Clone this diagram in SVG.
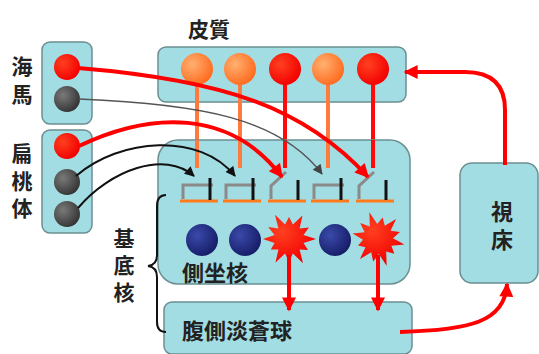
<svg xmlns="http://www.w3.org/2000/svg" xmlns:xlink="http://www.w3.org/1999/xlink" width="539" height="354" viewBox="0 0 539 354">
<defs>
<style>
.box{fill:#a2dde3;stroke:#6b8e92;stroke-width:1.5}
.lbl{font-family:"Noto Sans CJK JP","Noto Sans CJK SC",sans-serif;font-size:21px;font-weight:bold;fill:#222;text-anchor:middle;dominant-baseline:central}
.vert{writing-mode:vertical-rl;text-orientation:upright}
.stemO{stroke:#ff7a3c;stroke-width:4}
.stemR{stroke:#ff0a0a;stroke-width:4}
.base{stroke:#ff7a1a;stroke-width:3}
.pre{stroke:#8a8a8a;stroke-width:3;fill:none}
.post{stroke:#111;stroke-width:3}
.red{fill:none;stroke:#ff0000;stroke-width:4}
.blk{fill:none;stroke:#111;stroke-width:2}
.gry{fill:none;stroke:#555;stroke-width:1.5}
</style>
<radialGradient id="gO" cx="0.35" cy="0.35" r="0.7"><stop offset="0" stop-color="#ffb070"/><stop offset="1" stop-color="#ff6a1e"/></radialGradient>
<radialGradient id="gR" cx="0.35" cy="0.35" r="0.7"><stop offset="0" stop-color="#ff4020"/><stop offset="1" stop-color="#f20000"/></radialGradient>
<radialGradient id="gG" cx="0.35" cy="0.35" r="0.7"><stop offset="0" stop-color="#7a7a7a"/><stop offset="1" stop-color="#333"/></radialGradient>
<radialGradient id="gB" cx="0.35" cy="0.35" r="0.7"><stop offset="0" stop-color="#3a4aaa"/><stop offset="1" stop-color="#161c66"/></radialGradient>
<marker id="aR" viewBox="0 0 10 10" refX="9" refY="5" markerWidth="16" markerHeight="14" markerUnits="userSpaceOnUse" orient="auto"><path d="M0,0 L10,5 L0,10 z" fill="#ff0000"/></marker>
<marker id="aK" viewBox="0 0 10 10" refX="9" refY="5" markerWidth="11" markerHeight="10" markerUnits="userSpaceOnUse" orient="auto"><path d="M0,0 L10,5 L0,10 z" fill="#111"/></marker>
<marker id="aG" viewBox="0 0 10 10" refX="9" refY="5" markerWidth="11" markerHeight="10" markerUnits="userSpaceOnUse" orient="auto"><path d="M0,0 L10,5 L0,10 z" fill="#444"/></marker>
<polygon id="burst" points="27,0 14.49,3.88 19.05,11 10.61,10.61 14,24.25 3.88,14.49 0,23 -3.88,14.49 -13.5,23.38 -10.61,10.61 -18.19,10.5 -14.49,3.88 -26,0 -14.49,-3.88 -20.78,-12 -10.61,-10.61 -14,-24.25 -3.88,-14.49 0,-22 3.88,-14.49 13.5,-23.38 10.61,-10.61 19.92,-11.5 14.49,-3.88" fill="url(#gR)"/>
<g id="synC"><line class="base" x1="-17" y1="201" x2="21" y2="201"/><path class="pre" d="M-14,199 V185 H16"/><line class="post" x1="13" y1="178" x2="13" y2="200"/></g>
<g id="synO"><line class="base" x1="-17" y1="201" x2="21" y2="201"/><path class="pre" d="M-14,199 V186 L1,172"/><line class="post" x1="13" y1="180" x2="13" y2="200"/></g>
</defs>

<g id="hippocampus">
<rect class="box" x="42" y="42" width="50" height="82" rx="8"/>
<circle cx="67" cy="67" r="13" fill="url(#gR)"/>
<circle cx="67" cy="99" r="13" fill="url(#gG)"/>
<text class="lbl vert" x="22" y="84" style="letter-spacing:7px">海馬</text>
</g>

<g id="amygdala">
<rect class="box" x="42" y="130" width="50" height="103" rx="8"/>
<circle cx="67" cy="146" r="13" fill="url(#gR)"/>
<circle cx="67" cy="182" r="13" fill="url(#gG)"/>
<circle cx="67" cy="214" r="13" fill="url(#gG)"/>
<text class="lbl vert" x="22" y="184" style="letter-spacing:6.5px">扁桃体</text>
</g>

<g id="cortex">
<text class="lbl" x="209" y="28">皮質</text>
<rect class="box" x="158" y="47" width="248" height="55" rx="8"/>
<line class="stemO" x1="197" y1="72" x2="197" y2="168"/>
<line class="stemO" x1="240" y1="72" x2="240" y2="168"/>
<line class="stemR" x1="285" y1="72" x2="285" y2="168"/>
<line class="stemO" x1="328" y1="72" x2="328" y2="168"/>
<line class="stemR" x1="373" y1="72" x2="373" y2="168"/>
<circle cx="197" cy="69" r="16" fill="url(#gO)"/>
<circle cx="240" cy="69" r="16" fill="url(#gO)"/>
<circle cx="285" cy="69" r="16" fill="url(#gR)"/>
<circle cx="328" cy="69" r="16" fill="url(#gO)"/>
<circle cx="373" cy="69" r="16" fill="url(#gR)"/>
</g>

<g id="striatum">
<rect class="box" x="158" y="140" width="252" height="144" rx="20"/>
<line class="stemO" x1="197" y1="140" x2="197" y2="168"/>
<line class="stemO" x1="240" y1="140" x2="240" y2="168"/>
<line class="stemR" x1="285" y1="140" x2="285" y2="168"/>
<line class="stemO" x1="328" y1="140" x2="328" y2="168"/>
<line class="stemR" x1="373" y1="140" x2="373" y2="168"/>
<use xlink:href="#synC" transform="translate(197,0)"/>
<use xlink:href="#synC" transform="translate(240,0)"/>
<use xlink:href="#synO" transform="translate(285,0)"/>
<use xlink:href="#synC" transform="translate(328,0)"/>
<use xlink:href="#synO" transform="translate(373,0)"/>
<circle cx="202" cy="240" r="16" fill="url(#gB)"/>
<circle cx="245" cy="240" r="16" fill="url(#gB)"/>
<circle cx="335" cy="240" r="16" fill="url(#gB)"/>
<use xlink:href="#burst" transform="translate(289,239)"/>
<use xlink:href="#burst" transform="translate(378,239) rotate(12)"/>
<text class="lbl" x="215" y="271" style="font-size:22px">側坐核</text>
</g>

<g id="ventral-pallidum">
<rect class="box" x="164" y="302" width="248" height="52" rx="8"/>
<text class="lbl" x="237" y="329" style="font-size:22px">腹側淡蒼球</text>
</g>

<g id="thalamus">
<rect class="box" x="460" y="163" width="78" height="120" rx="12"/>
<text class="lbl vert" x="502" y="229" style="font-size:22px;letter-spacing:6px">視床</text>
</g>

<g id="basal-ganglia-brace">
<path d="M166,195 Q157,195 157,206 L157,255 Q157,265 148,266 Q157,267 157,277 L157,322 Q157,332 166,332" fill="none" stroke="#111" stroke-width="2"/>
<text class="lbl vert" x="124" y="268" style="letter-spacing:6px">基底核</text>
</g>

<g id="connectors">
<path class="red" d="M78,68 C225,80 305,108 368,177" marker-end="url(#aR)"/>
<path class="gry" d="M79,99 C200,104 280,118 322,174" marker-end="url(#aG)"/>
<path class="red" d="M79,146 C150,112 230,108 282,177" marker-end="url(#aR)"/>
<path class="blk" d="M76,176 C120,138 200,132 235,176" marker-end="url(#aK)"/>
<path class="blk" d="M78,208 C110,170 165,150 194,176" marker-end="url(#aK)"/>
<path class="red" d="M289,255 L289,310" marker-end="url(#aR)"/>
<path class="red" d="M378,255 L378,310" marker-end="url(#aR)"/>
<path class="red" d="M400,332 C470,330 505,322 507,284" marker-end="url(#aR)"/>
<path class="red" d="M505,165 L505,110 Q505,72 465,72 L405,72" marker-end="url(#aR)"/>
</g>
</svg>
